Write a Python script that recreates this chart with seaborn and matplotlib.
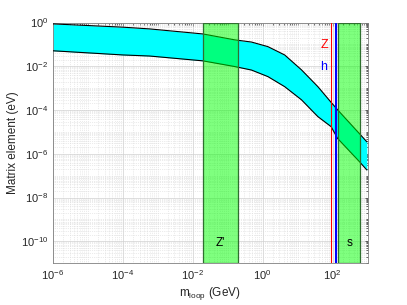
import matplotlib
matplotlib.use("Agg")
import matplotlib.pyplot as plt
import numpy as np
import pandas as pd
import seaborn as sns

# log10(m_loop / GeV) sample positions
log_m = [-6.0, -4.0, -3.23, -1.71, -0.80, -0.32, 0.15, 0.63, 1.11, 1.58, 1.96, 2.14, 2.77, 2.98]
# log10 of band edges (eV)
log_upper = [-0.06, -0.21, -0.29, -0.52, -0.79, -0.89, -1.10, -1.48, -2.16, -2.93, -3.65, -3.98, -5.08, -5.45]
log_lower = [-1.29, -1.48, -1.53, -1.75, -2.01, -2.17, -2.47, -2.93, -3.53, -4.30, -4.76, -5.29, -6.36, -6.74]

# mass windows (GeV)
zprime_range = [0.02, 0.2]
s_range = [140, 590]
m_z = 91.2
h_lines = [118, 128]

df = pd.DataFrame({
    "m": 10.0 ** np.array(log_m),
    "upper": 10.0 ** np.array(log_upper),
    "lower": 10.0 ** np.array(log_lower),
})

sns.set_style("white")
plt.rcParams["font.family"] = ["Liberation Sans", "DejaVu Sans"]
plt.rcParams["mathtext.fontset"] = "custom"
plt.rcParams["mathtext.rm"] = "Liberation Sans"
plt.rcParams["mathtext.it"] = "Liberation Sans:italic"

fig = plt.figure(figsize=(4.07, 3.05), dpi=100)
ax = fig.add_axes([0.130, 0.137, 0.773, 0.789])
ax.set_xscale("log")
ax.set_yscale("log")

ax.fill_between(df["m"], df["lower"], df["upper"], color="#00ffff", lw=0, zorder=2)
sns.lineplot(data=df, x="m", y="upper", color="black", lw=0.8, ax=ax, zorder=3)
sns.lineplot(data=df, x="m", y="lower", color="black", lw=0.8, ax=ax, zorder=3)

for lo, hi in (zprime_range, s_range):
    ax.axvspan(lo, hi, facecolor=(0, 1, 0, 0.5), edgecolor="#2f6f2f", lw=0.9, zorder=4)

ax.axvline(m_z, color="red", lw=0.8, zorder=5)
for m in h_lines:
    ax.axvline(m, color="blue", lw=0.8, zorder=5)

ax.text(59, 0.095, "Z", color="red", fontsize=9, ha="center", va="center", zorder=6)
ax.text(56, 0.0098, "h", color="blue", fontsize=9, ha="center", va="center", zorder=6)
ax.text(0.063, 8.5e-11, "Z'", color="black", fontsize=8.5, ha="center", va="center", zorder=6)
ax.text(306, 8.5e-11, "s", color="black", fontsize=8.5, ha="center", va="center", zorder=6)

ax.set_xlim(1e-6, 1e3)
ax.set_ylim(1e-11, 1)
ax.set_xticks([1e-6, 1e-4, 1e-2, 1e0, 1e2])
ax.set_yticks([1e-10, 1e-8, 1e-6, 1e-4, 1e-2, 1e0])
ax.xaxis.set_minor_locator(matplotlib.ticker.LogLocator(base=10, subs=np.arange(1, 10), numticks=30))
ax.yaxis.set_minor_locator(matplotlib.ticker.LogLocator(base=10, subs=np.arange(1, 10), numticks=30))
ax.xaxis.set_minor_formatter(matplotlib.ticker.NullFormatter())
ax.yaxis.set_minor_formatter(matplotlib.ticker.NullFormatter())

ax.grid(which="major", color="#d0d0d0", lw=0.5, ls="-", zorder=0)
ax.grid(which="minor", color="#d8d8d8", lw=0.5, ls=":", zorder=0)
ax.set_axisbelow(True)

ax.tick_params(which="both", direction="in", top=True, right=True, colors="#262626",
               labelsize=8, length=2.5, width=0.5)
ax.tick_params(which="minor", length=1.5)
for sp in ax.spines.values():
    sp.set_color("#808080")
    sp.set_linewidth(0.6)

ax.set_xlabel("m$_{\\mathrm{loop}}$ (GeV)", fontsize=8.5, color="#262626", labelpad=2)
ax.set_ylabel("Matrix element (eV)", fontsize=8.5, color="#262626", labelpad=1)

fig.savefig("out.png", dpi=100)
